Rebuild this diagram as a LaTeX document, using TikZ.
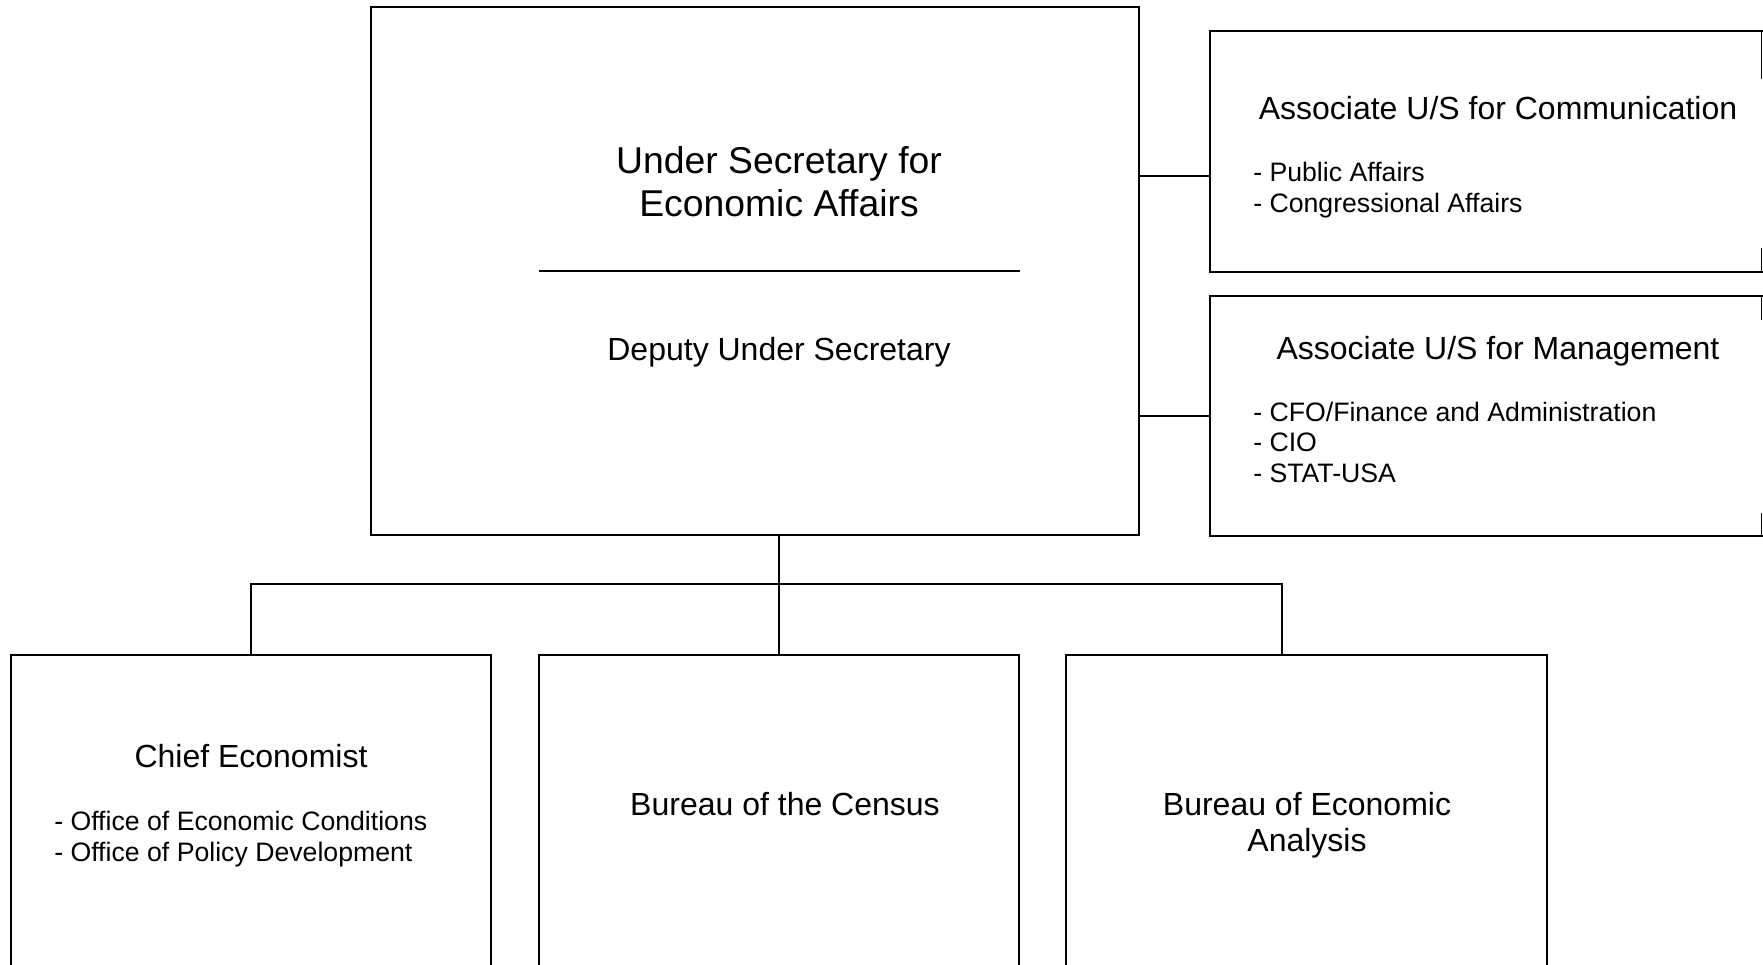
\documentclass[tikz,border=0pt]{standalone}
\usepackage{fontspec}
\setmainfont{Liberation Sans}
\begin{document}
\begin{tikzpicture}[x=0.75pt,y=-0.75pt,
  box/.style={draw, line width=1.3pt, inner sep=0pt, outer sep=0pt},
  conn/.style={line width=1.3pt},
  bigtxt/.style={font=\fontsize{28}{32}\selectfont, inner sep=0pt, anchor=base},
  medtxt/.style={font=\fontsize{24}{27.4}\selectfont, inner sep=0pt, anchor=base},
  smalltxt/.style={font=\fontsize{20}{22.8}\selectfont, inner sep=0pt, anchor=base west}]
\useasboundingbox (0,0) rectangle (1763,964);
\clip (0,0) rectangle (1763,964);
\fill[white] (0,0) rectangle (1763,964);

% boxes
\node[box, minimum width=576pt, minimum height=396pt] (main) at (755,271) {};
\node[box, minimum width=420pt, minimum height=180.75pt] (r1) at (1490,151.5) {};
\node[box, minimum width=420pt, minimum height=180pt] (r2) at (1490,416) {};
\node[box, minimum width=360pt, minimum height=258.75pt] (ba) at (251,827.5) {};
\node[box, minimum width=360pt, minimum height=258.75pt] (bb) at (779,827.5) {};
\node[box, minimum width=360.75pt, minimum height=258.75pt] (bc) at (1306.5,827.5) {};

% partial right edges of right boxes
\draw[conn] (1761.5,31) -- (1761.5,79);
\draw[conn] (1761.5,248) -- (1761.5,272);
\draw[conn] (1761.5,296) -- (1761.5,320);
\draw[conn] (1761.5,513) -- (1761.5,536);

% main box text
\node[bigtxt] (t1) at (779,173) {Under Secretary for};
\node[bigtxt] (t2) at (779,216) {Economic Affairs};
\draw[conn] (539,271) -- (1020,271);
\node[medtxt] (dep) at (779,360) {Deputy Under Secretary};

% right box 1
\node[medtxt] (r1t) at (1498,119.5) {Associate U/S for Communication};
\node[smalltxt] (r1a) at (1253,181.5) {- Public Affairs};
\node[smalltxt] (r1b) at (1253,212) {- Congressional Affairs};

% right box 2
\node[medtxt] (r2t) at (1498,359) {Associate U/S for Management};
\node[smalltxt] (r2a) at (1253,421) {- CFO/Finance and Administration};
\node[smalltxt] (r2b) at (1253,451.5) {- CIO};
\node[smalltxt] (r2c) at (1253,482) {- STAT-USA};

% bottom boxes text
\node[medtxt] (cet) at (251,767) {Chief Economist};
\node[smalltxt] (cea) at (54,830.5) {- Office of Economic Conditions};
\node[smalltxt] (ceb) at (54,861) {- Office of Policy Development};
\node[medtxt] (cen) at (785,815.5) {Bureau of the Census};
\node[medtxt] (bea1) at (1307,815.5) {Bureau of Economic};
\node[medtxt] (bea2) at (1307,851.5) {Analysis};

% connectors
\draw[conn] (main.east |- 0,176) -- (r1.west |- 0,176);
\draw[conn] (main.east |- 0,416) -- (r2.west |- 0,416);
\coordinate (bus) at (779,584);
\coordinate (busr) at (1282,584);
\draw[conn] (main.south -| bus) -- (bus);
\draw[conn] (ba.north) -- (ba.north |- bus) -- (busr) -- (bc.north -| busr);
\draw[conn] (bus) -- (bb.north);
\end{tikzpicture}
\end{document}
